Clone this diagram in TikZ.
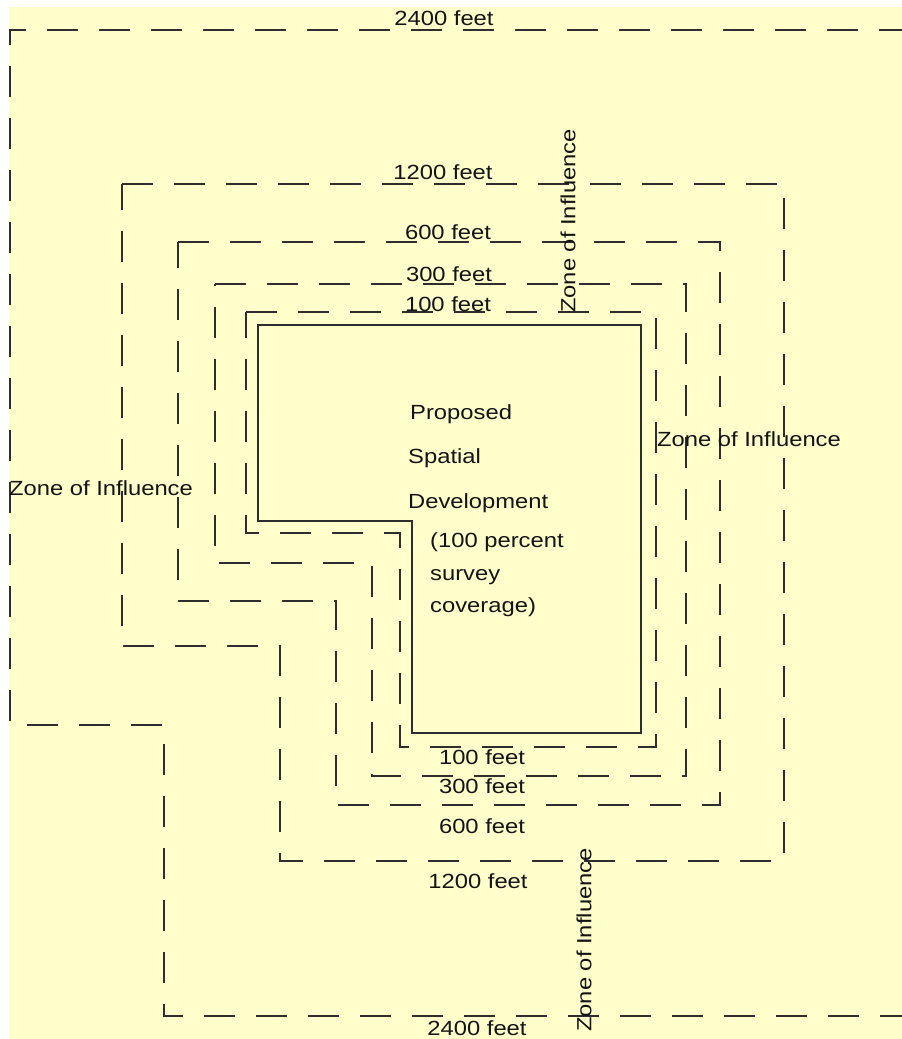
\documentclass[tikz,border=0pt]{standalone}
\usepackage{fontspec}
\setmainfont{Liberation Sans}
\definecolor{bgyellow}{HTML}{FFFFCC}
\definecolor{linecol}{HTML}{2E2E2E}
\definecolor{textcol}{HTML}{141414}
\newcommand{\stxt}[1]{\scalebox{1.16}[1]{#1}}
\tikzset{
  zone/.style={draw=linecol, line width=2pt, dash pattern=on 31pt off 21pt},
  site/.style={draw=linecol, line width=2pt},
  lbl/.style={inner sep=0pt, text=textcol, font=\fontsize{20.5}{24}\selectfont},
  para/.style={lbl, anchor=base west}
}
\begin{document}
\begin{tikzpicture}[x=1pt, y=-1pt]
\useasboundingbox (0,0) rectangle (902,1039);
\fill[white] (0,0) rectangle (902,1039);
\fill[bgyellow] (9,7) rectangle (902,1039);

% proposed development (solid)
\draw[site] (258,325) -- (641,325) -- (641,733) -- (412,733) -- (412,521) -- (258,521) -- cycle;
% 100 feet
\draw[zone] (246,312) -- (656,312) -- (656,747) -- (400,747) -- (400,533) -- (246,533) -- cycle;
% 300 feet
\draw[zone] (215,284) -- (686,284) -- (686,776) -- (372,776) -- (372,563) -- (215,563) -- cycle;
% 600 feet
\draw[zone] (178,242) -- (720,242) -- (720,805) -- (336,805) -- (336,601) -- (178,601) -- cycle;
% 1200 feet
\draw[zone] (122,184) -- (784,184) -- (784,861) -- (280,861) -- (280,646) -- (122,646) -- cycle;
% 2400 feet
\draw[zone] (910,30) -- (10,30) -- (10,725) -- (164,725) -- (164,1016) -- (910,1016);

% distance labels, top
\node[lbl] (t2400) at (444,18) {\stxt{2400 feet}};
\node[lbl] (t1200) at (443,172) {\stxt{1200 feet}};
\node[lbl] (t600) at (448,232) {\stxt{600 feet}};
\node[lbl] (t300) at (449,274) {\stxt{300 feet}};
\node[lbl] (t100) at (448,304) {\stxt{100 feet}};
% distance labels, bottom
\node[lbl] (b100) at (482,757) {\stxt{100 feet}};
\node[lbl] (b300) at (482,786) {\stxt{300 feet}};
\node[lbl] (b600) at (482,826) {\stxt{600 feet}};
\node[lbl] (b1200) at (478,881) {\stxt{1200 feet}};
\node[lbl] (b2400) at (477,1028) {\stxt{2400 feet}};

% zone of influence labels
\node[lbl] (zleft) at (101,488) {\stxt{Zone of Influence}};
\node[lbl] (zright) at (749,439) {\stxt{Zone of Influence}};
\node[lbl, rotate=90] (ztop) at (568,221) {\stxt{Zone of Influence}};
\node[lbl, rotate=90] (zbot) at (584,940) {\stxt{Zone of Influence}};

% central text
\node[para] (p1) at (410,419) {\stxt{Proposed}};
\node[para] (p2) at (408,463) {\stxt{Spatial}};
\node[para] (p3) at (408,508) {\stxt{Development}};
\node[para] (p4) at (430,547) {\stxt{(100 percent}};
\node[para] (p5) at (430,580) {\stxt{survey}};
\node[para] (p6) at (430,612) {\stxt{coverage)}};
\end{tikzpicture}
\end{document}
